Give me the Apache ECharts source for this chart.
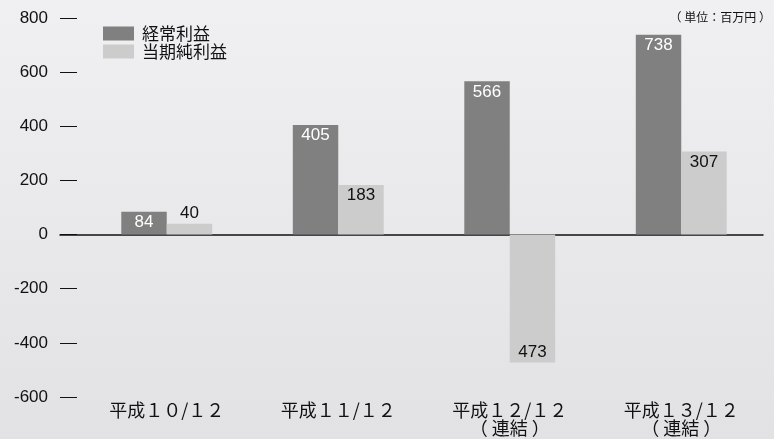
<!DOCTYPE html>
<html><head><meta charset="utf-8">
<script src="https://cdn.jsdelivr.net/npm/echarts@6/dist/echarts.min.js"></script>
<style>html,body{margin:0;padding:0;}#c{width:774px;height:439px;}</style>
</head><body><div id="c"></div>
<script>
var categories = ['平成１０/１２', '平成１１/１２', '平成１２/１２\n（ 連結 ）', '平成１３/１２\n（ 連結 ）'];
var keijouRieki = [84, 405, 566, 738];
var touki = [40, 183, -473, 307];
var yTicks = [-600, -400, -200, 0, 200, 400, 600, 800];
var seriesNames = ['経常利益', '当期純利益'];
var unitText = '（ 単位：百万円 ）';

var FONT = '"Liberation Sans", "Noto Sans CJK JP", sans-serif';
var CJK = '"Noto Sans CJK JP", sans-serif';
var chart = echarts.init(document.getElementById('c'));
chart.setOption({
  backgroundColor: new echarts.graphic.LinearGradient(0, 0, 0, 1, [
    {offset: 0, color: '#f0f0f2'}, {offset: 1, color: '#e2e2e4'}
  ]),
  animation: false,
  textStyle: {fontFamily: FONT},
  title: {
    text: unitText, right: 3, top: 11, padding: 0,
    textStyle: {fontSize: 12, fontWeight: 'normal', color: '#111', fontFamily: CJK}
  },
  legend: {
    orient: 'vertical', left: 103, top: 25, padding: 0, itemWidth: 31, itemHeight: 14, itemGap: 1,
    icon: 'rect', data: seriesNames,
    textStyle: {fontSize: 17, color: '#111', padding: [0, 0, 0, 3], fontFamily: CJK}
  },
  grid: [
    {left: 81, right: 7, top: 18, bottom: 42},
    {left: 60, right: 11, top: 18, bottom: 42}
  ],
  xAxis: [
    {type: 'category', gridIndex: 0, data: categories,
     axisLine: {show: false, onZero: false}, axisTick: {show: false},
     axisLabel: {fontSize: 18, color: '#111', margin: 4, lineHeight: 18, fontFamily: CJK}},
    {type: 'category', gridIndex: 1, data: [''],
     axisLine: {show: true, onZero: true, lineStyle: {color: '#111', width: 1.5}},
     axisTick: {show: false}, axisLabel: {show: false}}
  ],
  yAxis: [
    {type: 'value', gridIndex: 0, min: -600, max: 800, interval: 200, show: false},
    {type: 'value', gridIndex: 1, min: yTicks[0], max: yTicks[yTicks.length - 1], interval: 200,
     axisLine: {show: false}, splitLine: {show: false},
     axisTick: {show: true, inside: true, length: 17, lineStyle: {color: '#111', width: 1}},
     axisLabel: {fontSize: 17, color: '#111', margin: 12, fontFamily: FONT}}
  ],
  series: [
    {name: seriesNames[0], type: 'bar', xAxisIndex: 0, yAxisIndex: 0,
     data: keijouRieki, barGap: '0%', barCategoryGap: '47%',
     itemStyle: {color: '#808080'},
     label: {show: true, position: 'insideTop', distance: 2, color: '#fff', fontSize: 17, fontFamily: FONT}},
    {name: seriesNames[1], type: 'bar', xAxisIndex: 0, yAxisIndex: 0,
     data: touki.map(function (v) {
       var lp = v < 0 ? 'insideBottom' : (v < 60 ? 'top' : 'insideTop');
       return {value: v, label: {position: lp}};
     }),
     itemStyle: {color: '#cccccc'},
     label: {show: true, distance: 2, color: '#111', fontSize: 17, fontFamily: FONT,
       formatter: function (p) { return Math.abs(p.value); }}}
  ]
});
</script></body></html>
